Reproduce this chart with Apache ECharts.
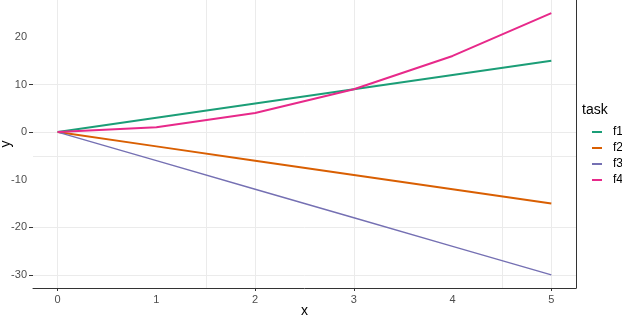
<!DOCTYPE html>
<html>
<head>
<meta charset="utf-8">
<script src="https://cdn.jsdelivr.net/npm/echarts@6/dist/echarts.min.js"></script>
<style>
html,body{margin:0;padding:0;background:#fff;}
#c{width:622px;height:316px;}
</style>
</head>
<body>
<div id="c"></div>
<script>
// ---- data ----
var xValues = [0, 1, 2, 3, 4, 5];
var f1 = [0, 3, 6, 9, 12, 15];
var f2 = [0, -3, -6, -9, -12, -15];
var f3 = [0, -6, -12, -18, -24, -30];
var f4 = [0, 1, 4, 9, 16, 25];
var seriesNames = ['f1', 'f2', 'f3', 'f4'];
var seriesValues = [f1, f2, f3, f4];
var xLabelValues = [0, 1, 2, 3, 4, 5];
var xTickValues = [0, 2, 3, 5];
var xGridValues = [0, 1.5, 2, 3, 4.5, 5];
var yLabelValues = [-30, -20, -10, 0, 10, 20];
var yTickValues = [-30, -20, 0, 10];
var yGridValues = [-30, -20, -5, 0, 10];

// ---- styles ----
var colors = ['#1B9E77', '#D95F02', '#7570B3', '#E7298A'];
var widths = [2, 2, 1.4, 2];
var FONT = '"Liberation Sans", Arial, sans-serif';
var xMin = -0.25, xMax = 5.25, yMin = -32.75, yMax = 27.75;

var chart = echarts.init(document.getElementById('c'), null, {renderer: 'canvas'});

function pairs(vals) { return xValues.map(function (x, i) { return [x, vals[i]]; }); }

var series = seriesNames.map(function (n, i) {
  return {
    name: n, type: 'line', data: pairs(seriesValues[i]),
    xAxisIndex: 0, yAxisIndex: 0,
    showSymbol: false, symbol: 'none', animation: false,
    lineStyle: {color: colors[i], width: widths[i]},
    itemStyle: {color: colors[i]},
    z: 3 + i
  };
});

var legendData = seriesNames.map(function (n, i) {
  return {
    name: n,
    icon: 'rect',
    itemHeight: i === 2 ? 1.4 : 2,
    itemStyle: {color: colors[i], opacity: 1}
  };
});

var hidden = {show: false};
var noLine = {show: false, onZero: false};
chart.setOption({
  animation: false,
  backgroundColor: '#fff',
  title: {
    text: 'task', left: 582, top: 103,
    padding: 0,
    textStyle: {fontFamily: FONT, fontSize: 14, fontWeight: 'normal', color: '#000'}
  },
  legend: {
    orient: 'vertical', left: 592, top: 125, padding: 0,
    itemWidth: 10, itemHeight: 2, itemGap: 2,
    data: legendData,
    textStyle: {fontFamily: FONT, fontSize: 12, color: '#000', lineHeight: 14, padding: [0, 0, 0, 6]}
  },
  grid: {left: 33, right: 46, top: 0, bottom: 28, containLabel: false, outerBoundsMode: 'none'},
  xAxis: [
    {
      type: 'value', min: xMin, max: xMax, position: 'bottom',
      name: 'x', nameLocation: 'middle', nameGap: 16, nameMoveOverlap: false,
      nameTextStyle: {fontFamily: FONT, fontSize: 14, color: '#000'},
      axisLine: {show: true, onZero: false, lineStyle: {color: '#333', width: 1}},
      axisTick: {show: false},
      axisLabel: {customValues: xLabelValues, margin: 6, fontFamily: FONT, fontSize: 11, color: '#4d4d4d'},
      splitLine: hidden
    },
    {
      type: 'value', min: xMin, max: xMax, position: 'bottom',
      axisLine: noLine,
      axisTick: {show: true, customValues: xTickValues, length: 3, lineStyle: {color: '#333'}},
      axisLabel: hidden, splitLine: hidden
    },
    {
      type: 'value', min: xMin, max: xMax, position: 'bottom',
      axisLine: noLine,
      axisTick: {show: false, customValues: xGridValues},
      axisLabel: hidden,
      splitLine: {show: true, lineStyle: {color: '#ebebeb', width: 1}}
    }
  ],
  yAxis: [
    {
      type: 'value', min: yMin, max: yMax, position: 'left',
      name: 'y', nameLocation: 'middle', nameGap: 20, nameRotate: 90, nameMoveOverlap: false,
      nameTextStyle: {fontFamily: FONT, fontSize: 14, color: '#000'},
      axisLine: noLine,
      axisTick: {show: false},
      axisLabel: {customValues: yLabelValues, margin: 6, fontFamily: FONT, fontSize: 11, color: '#4d4d4d'},
      splitLine: hidden
    },
    {
      type: 'value', min: yMin, max: yMax, position: 'left',
      axisLine: noLine,
      axisTick: {show: true, customValues: yTickValues, length: 4, lineStyle: {color: '#333'}},
      axisLabel: hidden, splitLine: hidden
    },
    {
      type: 'value', min: yMin, max: yMax, position: 'left',
      axisLine: noLine,
      axisTick: {show: false, customValues: yGridValues},
      axisLabel: hidden,
      splitLine: {show: true, lineStyle: {color: '#ebebeb', width: 1}}
    },
    {
      type: 'value', min: yMin, max: yMax, position: 'right',
      axisLine: {show: true, onZero: false, lineStyle: {color: '#333', width: 1}},
      axisTick: hidden, axisLabel: hidden, splitLine: hidden
    }
  ],
  series: series
});
</script>
</body>
</html>
